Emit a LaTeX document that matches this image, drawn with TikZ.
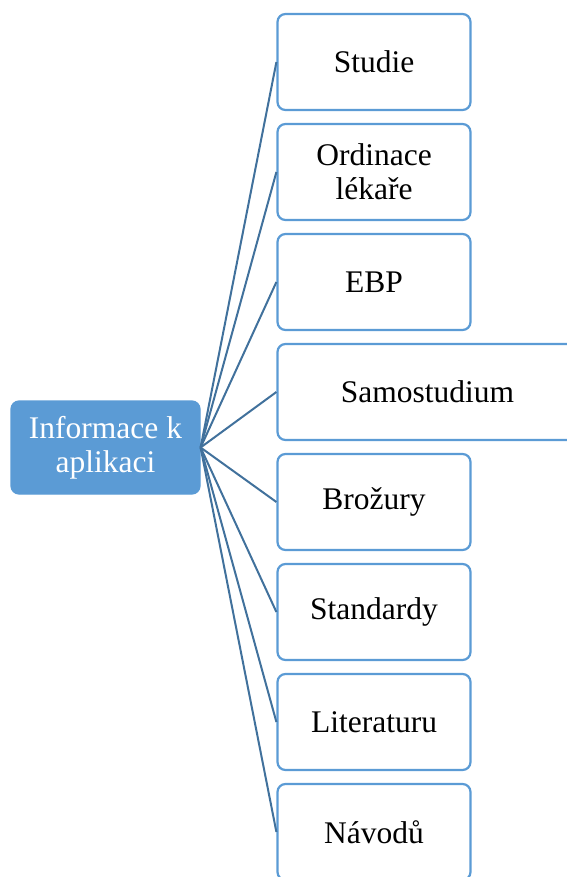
\documentclass[tikz,border=0pt]{standalone}
\usepackage{fontspec}
\setmainfont{Liberation Serif}
\definecolor{accent}{HTML}{5B9BD5}
\definecolor{linkblue}{HTML}{41719C}
\begin{document}
\begin{tikzpicture}[x=1pt,y=-1pt,
  every node/.style={font=\fontsize{31.5}{34}\selectfont, align=center, inner sep=0pt},
  rootbox/.style={draw=accent, fill=accent, text=white, line width=1.2pt,
    rounded corners=8pt, minimum width=189pt, minimum height=93pt},
  leafbox/.style={draw=accent, fill=white, line width=2.2pt,
    rounded corners=8pt, minimum width=193pt, minimum height=96pt},
  wide/.style={minimum width=300pt},
  link/.style={draw=linkblue, line width=2pt}]
\useasboundingbox (0,0) rectangle (566,877);
\node[rootbox] (root) at (105.5,447.5) {Informace k\\aplikaci};
\node[leafbox] (n1) at (374,62) {Studie};
\node[leafbox] (n2) at (374,172) {Ordinace\\lékaře};
\node[leafbox] (n3) at (374,282) {EBP};
\node[leafbox, wide] (n4) at (427.5,392) {Samostudium};
\node[leafbox] (n5) at (374,502) {Brožury};
\node[leafbox] (n6) at (374,612) {Standardy};
\node[leafbox] (n7) at (374,722) {Literaturu};
\node[leafbox] (n8) at (374,832) {Návodů};
\foreach \n in {n1,n2,n3,n4,n5,n6,n7,n8}
  \draw[link] (root.east) -- (\n.west);
\end{tikzpicture}
\end{document}
